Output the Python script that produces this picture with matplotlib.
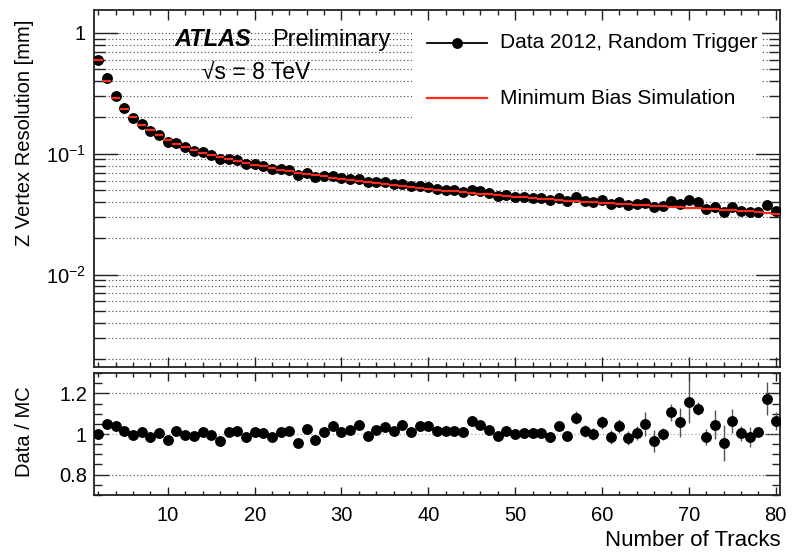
import numpy as np
import matplotlib
matplotlib.use("Agg")
import matplotlib.pyplot as plt
from matplotlib.patches import Rectangle
from matplotlib.lines import Line2D
from matplotlib.ticker import LogLocator, MultipleLocator, FixedLocator, NullFormatter, FixedFormatter

plt.rcParams['font.family'] = ['Liberation Sans', 'DejaVu Sans']
plt.rcParams['mathtext.fontset'] = 'custom'
plt.rcParams['mathtext.rm'] = 'Liberation Sans'
plt.rcParams['mathtext.it'] = 'Liberation Sans:italic'

# ---------------- data ----------------
n_tracks = list(range(2, 81))

mc_res = [0.600, 0.404, 0.290, 0.235, 0.200, 0.174, 0.156, 0.142, 0.130, 0.121,
          0.113, 0.107, 0.102, 0.0976, 0.0938, 0.0902, 0.0870, 0.0840, 0.0812, 0.0786,
          0.0761, 0.0740, 0.0719, 0.0700, 0.0682, 0.0666, 0.0650, 0.0635, 0.0621, 0.0609,
          0.0596, 0.0585, 0.0573, 0.0563, 0.0552, 0.0543, 0.0532, 0.0524, 0.0514, 0.0506,
          0.0497, 0.0490, 0.0481, 0.0474, 0.0467, 0.0461, 0.0455, 0.0449, 0.0443, 0.0437,
          0.0431, 0.0426, 0.0420, 0.0415, 0.0410, 0.0405, 0.0402, 0.0397, 0.0394, 0.0389,
          0.0386, 0.0382, 0.0379, 0.0375, 0.0372, 0.0368, 0.0365, 0.0361, 0.0359, 0.0355,
          0.0352, 0.0349, 0.0345, 0.0342, 0.0338, 0.0334, 0.0328, 0.0321, 0.0315]

mc_err = [0.0005] * 10 + [0.0002] * 50 + [0.0003] * 10 + [0.0005] * 9

data_res = [0.600, 0.424, 0.301, 0.239, 0.199, 0.176, 0.154, 0.142, 0.126, 0.123,
            0.113, 0.106, 0.103, 0.0973, 0.0907, 0.0909, 0.0884, 0.0827, 0.0818, 0.0790,
            0.0751, 0.0748, 0.0731, 0.0669, 0.0698, 0.0647, 0.0655, 0.0661, 0.0626, 0.0622,
            0.0622, 0.0580, 0.0585, 0.0582, 0.0561, 0.0567, 0.0538, 0.0545, 0.0533, 0.0513,
            0.0505, 0.0498, 0.0486, 0.0503, 0.0488, 0.0471, 0.0451, 0.0455, 0.0443, 0.0438,
            0.0432, 0.0427, 0.0413, 0.0430, 0.0405, 0.0438, 0.0408, 0.0397, 0.0416, 0.0383,
            0.0402, 0.0374, 0.0381, 0.0393, 0.0360, 0.0368, 0.0404, 0.0382, 0.0416, 0.0399,
            0.0347, 0.0365, 0.0330, 0.0364, 0.0339, 0.0329, 0.0331, 0.0377, 0.0335]

ratio = [1.000, 1.050, 1.037, 1.016, 0.995, 1.011, 0.987, 1.003, 0.971, 1.013,
         0.997, 0.989, 1.011, 0.997, 0.967, 1.008, 1.016, 0.984, 1.008, 1.005,
         0.987, 1.011, 1.016, 0.956, 1.024, 0.972, 1.008, 1.041, 1.008, 1.021,
         1.044, 0.992, 1.021, 1.033, 1.016, 1.044, 1.011, 1.041, 1.037, 1.013,
         1.016, 1.016, 1.011, 1.062, 1.046, 1.021, 0.992, 1.013, 1.000, 1.003,
         1.003, 1.003, 0.984, 1.037, 0.989, 1.081, 1.016, 1.000, 1.057, 0.984,
         1.041, 0.980, 1.005, 1.049, 0.967, 1.000, 1.106, 1.057, 1.159, 1.125,
         0.987, 1.046, 0.956, 1.065, 1.003, 0.984, 1.008, 1.174, 1.065]

ratio_err = [0.004] * 39 + [0.01] * 4 + [0.02] * 12 + [0.03] * 4 + \
            [0.035, 0.035, 0.035, 0.035, 0.06, 0.055, 0.03, 0.04, 0.07, 0.105,
             0.03, 0.04, 0.07, 0.09, 0.06, 0.035, 0.05, 0.02, 0.08, 0.045]

x_ticks = [10, 20, 30, 40, 50, 60, 70, 80]

# ---------------- figure ----------------
W, H = 796, 552
fig = plt.figure(figsize=(W / 100, H / 100), dpi=100)

def ax_rect(l, t, r, b):
    return [l / W, 1 - b / H, (r - l) / W, (b - t) / H]

ax = fig.add_axes(ax_rect(94, 10, 780, 367))
axr = fig.add_axes(ax_rect(94, 373, 780, 495))

FS = 14.5
grid_kw = dict(color='#444444', linestyle=(0, (1, 2.2)), linewidth=0.8)

# ---- top panel ----
ax.set_yscale('log')
ax.set_xlim(1.5, 80.5)
ax.set_ylim(1.72e-3, 1.55)
ax.set_axisbelow(True)
ax.yaxis.set_minor_locator(LogLocator(base=10, subs=np.arange(2, 10), numticks=20))
ax.yaxis.set_minor_formatter(NullFormatter())
ax.yaxis.set_major_locator(FixedLocator([0.001, 0.01, 0.1, 1]))
ax.yaxis.set_major_formatter(FixedFormatter([r'$10^{-3}$', r'$10^{-2}$', r'$10^{-1}$', '1']))
ax.grid(True, which='both', axis='y', **grid_kw)
ax.xaxis.set_major_locator(FixedLocator(x_ticks))
ax.xaxis.set_minor_locator(MultipleLocator(2))
ax.tick_params(axis='x', labelbottom=False)
ax.tick_params(axis='both', which='both', direction='in', top=True, right=True,
               labelsize=FS, width=1.0, color='#222222')
ax.tick_params(axis='y', which='major', length=17, pad=6)
ax.tick_params(axis='y', which='minor', length=8)
ax.tick_params(axis='x', which='major', length=7)
ax.tick_params(axis='x', which='minor', length=3.5)

# legend background box (hides grid like the ROOT legend)
ax.add_patch(Rectangle((0.4636, 0.678), 0.51, 0.288, transform=ax.transAxes,
                       facecolor='white', edgecolor='none', zorder=1))

ax.errorbar(n_tracks, data_res, fmt='o', color='black', ms=6.8, zorder=3)
ax.errorbar(n_tracks, mc_res, xerr=0.5, yerr=mc_err, fmt='none', ecolor='#ff2a1a',
            elinewidth=1.6, capsize=0, zorder=4)

for s in ax.spines.values():
    s.set_linewidth(1.3)
    s.set_color('#222222')

# texts
ax.text(0.118, 0.916, 'ATLAS', transform=ax.transAxes, fontsize=17,
        fontweight='bold', fontstyle='italic', va='center', ha='left', zorder=6)
ax.text(0.2595, 0.916, 'Preliminary', transform=ax.transAxes, fontsize=17,
        va='center', ha='left', zorder=6)
ax.text(0.157, 0.826, '\u221as = 8 TeV', transform=ax.transAxes, fontsize=16.5,
        va='center', ha='left', zorder=6)

# legend keys
ax.add_line(Line2D([0.4854, 0.5729], [0.9076, 0.9076], transform=ax.transAxes,
                   color='black', lw=1.3, zorder=6))
ax.add_line(Line2D([0.5292], [0.9076], transform=ax.transAxes, marker='o',
                   color='black', ms=6.8, zorder=6))
ax.add_line(Line2D([0.4854, 0.5729], [0.7535, 0.7535], transform=ax.transAxes,
                   color='#ff2a1a', lw=1.6, zorder=6))
ax.text(0.5918, 0.9076, 'Data 2012, Random Trigger', transform=ax.transAxes,
        fontsize=15, va='center', ha='left', zorder=6)
ax.text(0.5918, 0.7535, 'Minimum Bias Simulation', transform=ax.transAxes,
        fontsize=15, va='center', ha='left', zorder=6)

# ---- ratio panel ----
axr.set_xlim(1.5, 80.5)
axr.set_ylim(0.7, 1.3)
axr.set_axisbelow(True)
axr.yaxis.set_major_locator(FixedLocator([0.8, 1.0, 1.2]))
axr.yaxis.set_major_formatter(FixedFormatter(['0.8', '1', '1.2']))
axr.yaxis.set_minor_locator(MultipleLocator(0.05))
axr.xaxis.set_major_locator(FixedLocator(x_ticks))
axr.xaxis.set_minor_locator(MultipleLocator(2))
axr.axhline(1.2, **grid_kw)
axr.axhline(0.8, **grid_kw)
axr.axhline(1.0, color='#999999', linestyle=(0, (1, 2.2)), linewidth=0.8)
axr.tick_params(axis='both', which='both', direction='in', top=True, right=True,
                labelsize=FS, width=1.0, color='#222222')
axr.tick_params(axis='y', which='major', length=11, pad=5)
axr.tick_params(axis='y', which='minor', length=5.5)
axr.tick_params(axis='x', which='major', length=6, pad=8)
axr.tick_params(axis='x', which='minor', length=3)
axr.errorbar(n_tracks, ratio, yerr=ratio_err, fmt='o', color='black', ecolor='#555555',
             elinewidth=1.0, ms=6.8, capsize=0, zorder=3)
for s in axr.spines.values():
    s.set_linewidth(1.3)
    s.set_color('#222222')

# axis labels
fig.text(25 / W, 1 - 133 / H, 'Z Vertex Resolution [mm]', rotation=90,
         fontsize=14.5, va='center', ha='center')
fig.text(25 / W, 1 - 432 / H, 'Data / MC', rotation=90,
         fontsize=14.5, va='center', ha='center')
fig.text(781 / W, 1 - 541 / H, 'Number of Tracks', fontsize=16,
         va='center', ha='right')

fig.savefig('out.png', dpi=100, facecolor='white')
